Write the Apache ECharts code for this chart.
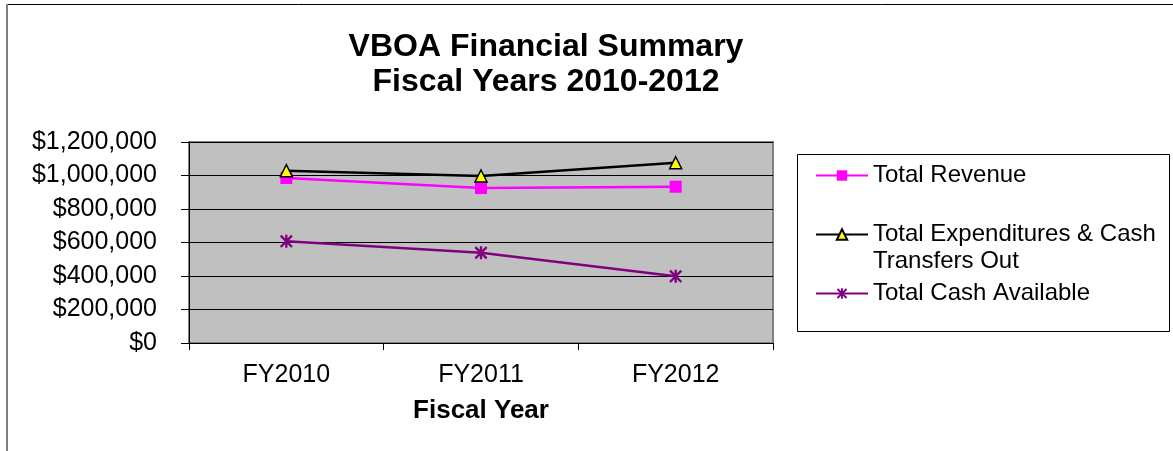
<!DOCTYPE html>
<html>
<head>
<meta charset="utf-8">
<script src="https://cdn.jsdelivr.net/npm/echarts@6/dist/echarts.min.js"></script>
<style>
html,body{margin:0;padding:0;background:#fff;}
#chart{width:1173px;height:451px;}
</style>
</head>
<body>
<div id="chart"></div>
<script>
const categories = ['FY2010', 'FY2011', 'FY2012'];
const revenue = [985000, 925000, 933000];
const expenditures = [1029000, 997000, 1076000];
const cashAvailable = [607000, 539000, 398000];
const seriesNames = ['Total Revenue', 'Total Expenditures & Cash Transfers Out', 'Total Cash Available'];
const yTicks = [0, 200000, 400000, 600000, 800000, 1000000, 1200000];

const FONT = '"Liberation Sans", Arial, sans-serif';
const asterisk = 'path://M4.1 0H5.9V10H4.1Z M0 1.3L1.3 0L10 8.7L8.7 10Z M8.7 0L10 1.3L1.3 10L0 8.7Z';

const chart = echarts.init(document.getElementById('chart'), null, {renderer: 'canvas'});

function fmtMoney(v) {
  return '$' + v.toString().replace(/\B(?=(\d{3})+(?!\d))/g, ',');
}

chart.setOption({
  backgroundColor: '#ffffff',
  animation: false,
  title: {
    text: 'VBOA Financial Summary\nFiscal Years 2010-2012',
    left: 541,
    textAlign: 'center',
    top: 25,
    textStyle: {fontFamily: FONT, fontWeight: 'bold', fontSize: 32, lineHeight: 35, color: '#000'}
  },
  grid: {
    left: 189, right: 400, top: 142, bottom: 108,
    show: true, backgroundColor: '#C0C0C0', borderColor: '#808080', borderWidth: 2
  },
  legend: {
    orient: 'vertical',
    left: 810,
    top: 157,
    itemGap: 5,
    itemWidth: 52,
    itemHeight: 13,
    itemTextGap: 6,
    data: seriesNames,
    formatter: function (name) {
      if (name === seriesNames[1]) return '\nTotal Expenditures & Cash\nTransfers Out';
      return name;
    },
    textStyle: {fontFamily: FONT, fontSize: 24, lineHeight: 27, color: '#000'}
  },
  xAxis: {
    type: 'category',
    data: categories,
    boundaryGap: true,
    name: 'Fiscal Year',
    nameLocation: 'middle',
    nameGap: 55,
    nameTextStyle: {fontFamily: FONT, fontWeight: 'bold', fontSize: 26, color: '#000'},
    axisLine: {show: true, lineStyle: {color: '#000', width: 1}},
    axisTick: {show: true, length: 7, alignWithLabel: false, lineStyle: {color: '#000'}},
    axisLabel: {fontFamily: FONT, fontSize: 25, color: '#000', margin: 20},
    splitLine: {show: false}
  },
  yAxis: {
    type: 'value',
    min: 0, max: 1200000, interval: 200000,
    axisLine: {show: true, lineStyle: {color: '#000', width: 1}},
    axisTick: {show: true, length: 8, lineStyle: {color: '#000'}},
    axisLabel: {
      fontFamily: FONT, fontSize: 25, color: '#000', margin: 32,
      formatter: function (v) { return yTicks.indexOf(v) >= 0 ? fmtMoney(v) : ''; }
    },
    splitLine: {show: true, lineStyle: {color: '#000', width: 1}}
  },
  series: [
    {
      name: seriesNames[0], type: 'line', data: revenue,
      symbol: 'rect', symbolSize: 12,
      lineStyle: {color: '#FF00FF', width: 2.5},
      itemStyle: {color: '#FF00FF', borderColor: '#FF00FF', borderWidth: 0}
    },
    {
      name: seriesNames[1], type: 'line', data: expenditures,
      symbol: 'triangle', symbolSize: 12,
      lineStyle: {color: '#000000', width: 2.5},
      itemStyle: {color: '#FFFF00', borderColor: '#000000', borderWidth: 1.5}
    },
    {
      name: seriesNames[2], type: 'line', data: cashAvailable,
      symbol: asterisk, symbolSize: 13,
      lineStyle: {color: '#800080', width: 2.5},
      itemStyle: {color: '#800080', borderWidth: 0}
    }
  ],
  graphic: [
    {type: 'line', shape: {x1: 7, y1: 4.5, x2: 1173, y2: 4.5}, style: {stroke: '#000', lineWidth: 1}, z: -1},
    {type: 'line', shape: {x1: 7, y1: 4, x2: 7, y2: 451}, style: {stroke: '#808080', lineWidth: 2}, z: -1},
    {type: 'rect', shape: {x: 797.5, y: 154.5, width: 372, height: 177}, style: {fill: 'none', stroke: '#000', lineWidth: 1}, z: -1}
  ]
});
</script>
</body>
</html>
